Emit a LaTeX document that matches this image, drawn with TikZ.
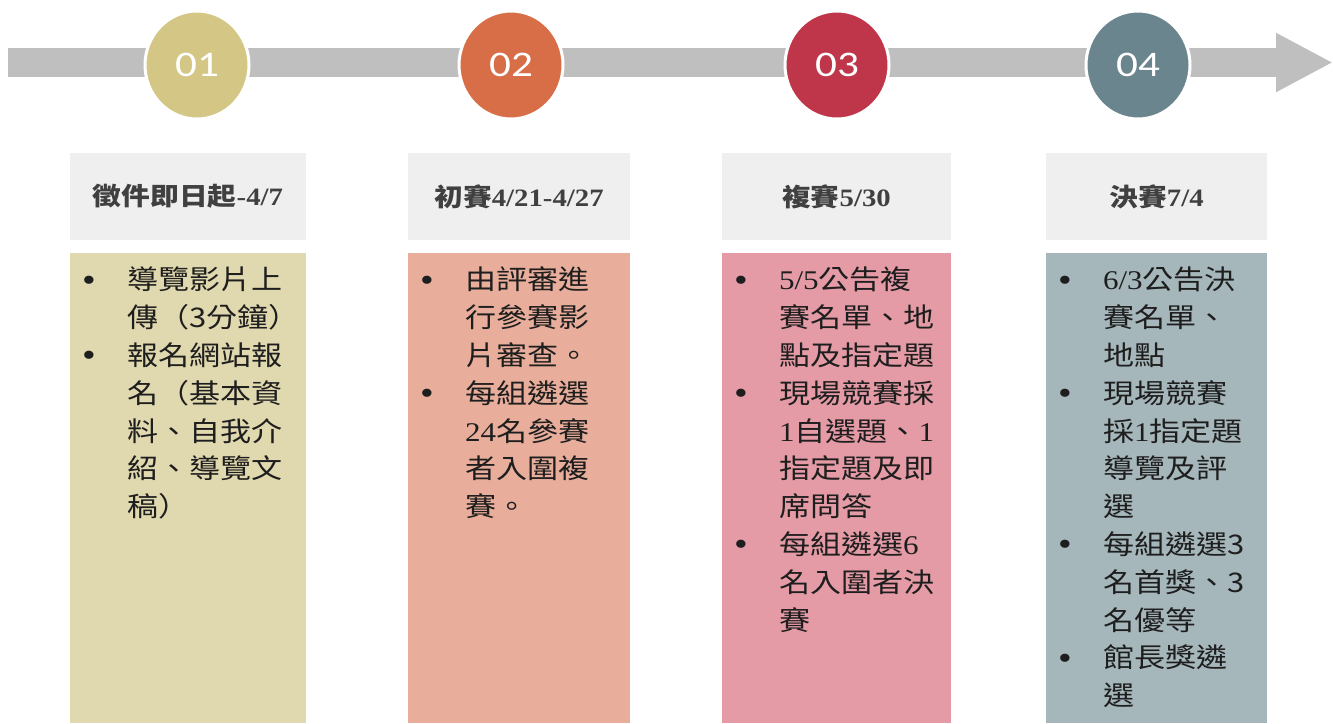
\documentclass[tikz,border=0pt]{standalone}
\usepackage{fontspec}
\setmainfont{Noto Sans CJK TC}[FakeStretch=1.15]
\newfontfamily\lat{Liberation Serif}[FakeStretch=1.15]
\newfontfamily\numfont{Carlito}[FakeStretch=1.2]
\usetikzlibrary{shapes.geometric, arrows.meta, positioning}

\definecolor{bargray}{HTML}{BFBFBF}
\definecolor{hdrgray}{HTML}{EFEFEF}
\definecolor{hdrtext}{HTML}{404040}
\definecolor{bodytext}{HTML}{1E1E1E}
\definecolor{c1}{HTML}{D4C685}
\definecolor{c2}{HTML}{D76E47}
\definecolor{c3}{HTML}{BF364A}
\definecolor{c4}{HTML}{6B858E}
\definecolor{b1}{HTML}{E0D8AE}
\definecolor{b2}{HTML}{E8AE9B}
\definecolor{b3}{HTML}{E49BA6}
\definecolor{b4}{HTML}{A6B7BC}

\newcommand{\itm}{{\lat\fontsize{34}{34}\selectfont\raisebox{-1.5pt}{\textbullet}}}
\newcommand{\bodyfont}{\fontsize{27}{37.8}\selectfont}

\begin{document}
\begin{tikzpicture}[
    x=1pt, y=-1pt,
    timeline/.style={draw=bargray, line width=29pt, -{Triangle[length=57pt, width=55pt]}},
    stage/.style={ellipse, fill=#1, draw=white, line width=3pt, minimum width=104pt, minimum height=108pt, text=white, font=\numfont\fontsize{36}{36}\selectfont},
    hdr/.style={rectangle, fill=hdrgray, minimum height=87pt, inner sep=0pt, text=hdrtext, font=\fontsize{25}{30}\selectfont\bfseries},
    panel/.style={rectangle, fill=#1, minimum height=470pt, inner sep=0pt},
    items/.style={inner sep=0pt, text=bodytext, font=\bodyfont}
  ]
    \useasboundingbox (0,0) rectangle (1333,723);

    % Timeline
    \coordinate (tstart) at (8,62.5);
    \coordinate (tend) at (1333,62.5);
    \draw[timeline] (tstart) -- (tend);

    % Stages
    \node[stage=c1] (s1) at (197,65) {01};
    \node[stage=c2] (s2) at (511,65) {02};
    \node[stage=c3] (s3) at (837,65) {03};
    \node[stage=c4] (s4) at (1138,65) {04};

    % Headers
    \node[hdr, minimum width=236pt] (h1) at (188,196.5) {徵件即日起{\lat -4/7}};
    \node[hdr, minimum width=222pt] (h2) at (519,196.5) {初賽{\lat 4/21-4/27}};
    \node[hdr, minimum width=229pt] (h3) at (836.5,196.5) {複賽{\lat 5/30}};
    \node[hdr, minimum width=221pt] (h4) at (1156.5,196.5) {決賽{\lat 7/4}};

    % Panels
    \node[panel=b1, minimum width=236pt, below=13pt of h1] (p1) {};
    \node[panel=b2, minimum width=222pt, below=13pt of h2] (p2) {};
    \node[panel=b3, minimum width=229pt, below=13pt of h3] (p3) {};
    \node[panel=b4, minimum width=221pt, below=13pt of h4] (p4) {};

    % Items
    \node[items, below right=10pt and 12pt of p1.north west] (t1) {\begin{tabular}{@{}p{45pt}@{}l@{}}
      \itm & 導覽影片上\\
           & 傳（3分鐘）\\
      \itm & 報名網站報\\
           & 名（基本資\\
           & 料、自我介\\
           & 紹、導覽文\\
           & 稿）
    \end{tabular}};
    \node[items, below right=10pt and 12pt of p2.north west] (t2) {\begin{tabular}{@{}p{45pt}@{}l@{}}
      \itm & 由評審進\\
           & 行參賽影\\
           & 片審查。\\
      \itm & 每組遴選\\
           & {\lat 24}名參賽\\
           & 者入圍複\\
           & 賽。
    \end{tabular}};
    \node[items, below right=10pt and 12pt of p3.north west] (t3) {\begin{tabular}{@{}p{45pt}@{}l@{}}
      \itm & {\lat 5/5}公告複\\
           & 賽名單、地\\
           & 點及指定題\\
      \itm & 現場競賽採\\
           & {\lat 1}自選題、{\lat 1}\\
           & 指定題及即\\
           & 席問答\\
      \itm & 每組遴選{\lat 6}\\
           & 名入圍者決\\
           & 賽
    \end{tabular}};
    \node[items, below right=10pt and 12pt of p4.north west] (t4) {\begin{tabular}{@{}p{45pt}@{}l@{}}
      \itm & {\lat 6/3}公告決\\
           & 賽名單、\\
           & 地點\\
      \itm & 現場競賽\\
           & 採{\lat 1}指定題\\
           & 導覽及評\\
           & 選\\
      \itm & 每組遴選3\\
           & 名首獎、3\\
           & 名優等\\
      \itm & 館長獎遴\\
           & 選
    \end{tabular}};

  \end{tikzpicture}
\end{document}
